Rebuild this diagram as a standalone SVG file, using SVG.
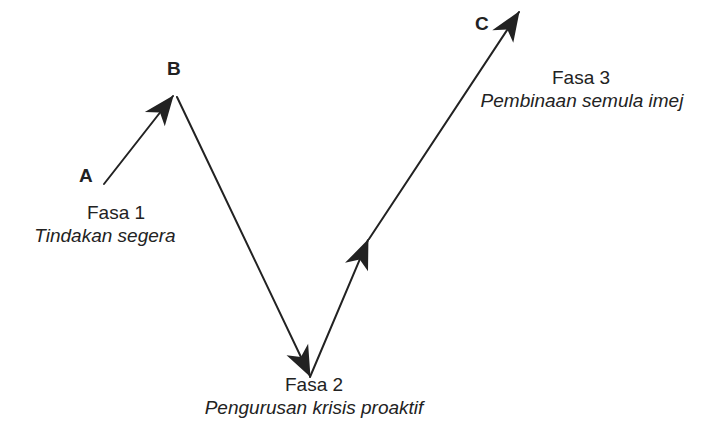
<svg xmlns="http://www.w3.org/2000/svg" width="702" height="444" viewBox="0 0 702 444">
  <style>
    .ln { fill: none; stroke: #222; stroke-width: 2; stroke-linecap: round; }
    .lbl { font-family: "Liberation Sans", Arial, sans-serif; font-size: 19px; font-weight: bold; fill: #222; }
    .t { font-family: "Liberation Sans", Arial, sans-serif; font-size: 19px; fill: #222; text-anchor: middle; }
    .it { font-style: italic; }
  </style>
  <defs>
    <marker id="ah" markerUnits="userSpaceOnUse" markerWidth="40" markerHeight="40" viewBox="-32 -16 36 32" refX="0" refY="0" orient="auto">
      <path d="M1,0 L-27,-11 L-19,0 L-26,11 Z" fill="#222"/>
    </marker>
  </defs>
  <rect width="702" height="444" fill="#fff"/>
  <g id="connectors">
    <line class="ln" x1="104" y1="184" x2="173" y2="96" marker-end="url(#ah)"/>
    <line class="ln" x1="177" y1="97" x2="310" y2="376" marker-end="url(#ah)"/>
    <line class="ln" x1="310" y1="377" x2="368" y2="240" marker-end="url(#ah)"/>
    <line class="ln" x1="369" y1="239" x2="519" y2="12" marker-end="url(#ah)"/>
  </g>
  <g id="A"><text class="lbl" x="79" y="182">A</text></g>
  <g id="B"><text class="lbl" x="167" y="75">B</text></g>
  <g id="C"><text class="lbl" x="475" y="30">C</text></g>
  <g id="fasa1">
    <text class="t" x="116" y="219">Fasa 1</text>
    <text class="t it" x="105" y="242">Tindakan segera</text>
  </g>
  <g id="fasa2">
    <text class="t" x="314" y="391">Fasa 2</text>
    <text class="t it" x="314" y="414">Pengurusan krisis proaktif</text>
  </g>
  <g id="fasa3">
    <text class="t" x="581" y="84">Fasa 3</text>
    <text class="t it" x="582" y="107">Pembinaan semula imej</text>
  </g>
</svg>
